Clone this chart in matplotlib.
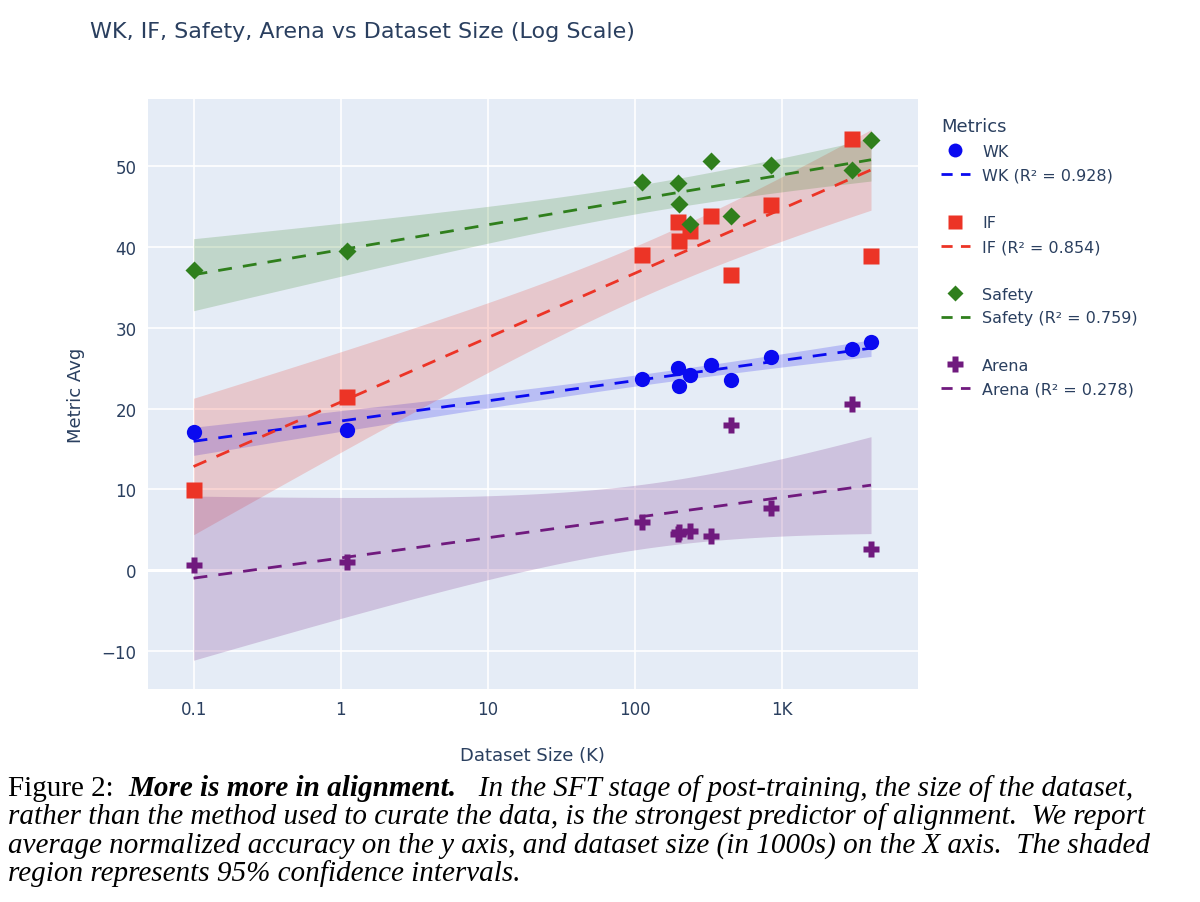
import numpy as np
import matplotlib.pyplot as plt
from matplotlib.lines import Line2D

# dataset sizes (K)
x_sizes = [0.1, 1.1, 112, 195, 200, 237, 329, 450, 841, 2990, 4030]
wk = [17.1, 17.4, 23.7, 25.0, 22.8, 24.2, 25.4, 23.6, 26.4, 27.4, 28.2]
ifs = [9.9, 21.4, 39.0, 43.1, 40.8, 42.0, 43.8, 36.6, 45.2, 53.4, 38.9]
safety = [37.2, 39.5, 48.0, 47.9, 45.3, 42.9, 50.6, 43.9, 50.1, 49.5, 53.2]
arena = [0.6, 1.0, 6.0, 4.5, 4.7, 4.8, 4.2, 18.0, 7.7, 20.6, 2.6]
r2 = {'WK': 0.928, 'IF': 0.854, 'Safety': 0.759, 'Arena': 0.278}

series = [
    ('WK', wk, '#0a0af0', 'o', 11),
    ('IF', ifs, '#ec3426', 's', 11),
    ('Safety', safety, '#2f7f1c', 'D', 9),
    ('Arena', arena, '#701a7e', 'P', 12),
]

fig = plt.figure(figsize=(12, 9.03), dpi=100)
ax = fig.add_axes([0.123, 0.236, 0.642, 0.653])
ax.set_facecolor('#e5ecf6')
ax.set_xscale('log')

lx = np.log10(np.array(x_sizes))
xs = np.linspace(lx.min(), lx.max(), 100)
handles = []
for name, ys, col, mk, ms in series:
    y = np.array(ys)
    n = len(y)
    b, a = np.polyfit(lx, y, 1)
    resid = y - (a + b * lx)
    s = np.sqrt((resid ** 2).sum() / (n - 2))
    se = s * np.sqrt(1 / n + (xs - lx.mean()) ** 2 / ((lx - lx.mean()) ** 2).sum())
    fit = a + b * xs
    ax.fill_between(10 ** xs, fit - 2.262 * se, fit + 2.262 * se, color=col, alpha=0.2, lw=0, zorder=1)
    ax.plot(10 ** xs, fit, '--', color=col, lw=2, dashes=(5, 4), zorder=2)
    ax.plot(x_sizes, ys, mk, color=col, ms=ms, mec='none', zorder=3)
    handles += [Line2D([], [], ls='none', marker=mk, color=col, ms=ms - 1, mec='none', label=name),
                Line2D([], [], ls='--', color=col, lw=2, dashes=(4, 3), label=f'{name} (R² = {r2[name]:.3f})'),
                Line2D([], [], ls='none', label=' ')]

ax.set_xlim(0.0487, 8410)
ax.set_ylim(-14.7, 58.3)
ax.set_xticks([0.1, 1, 10, 100, 1000])
ax.set_xticklabels(['0.1', '1', '10', '100', '1K'])
ax.minorticks_off()
ax.set_yticks([-10, 0, 10, 20, 30, 40, 50])
ax.set_yticklabels(['−10', '0', '10', '20', '30', '40', '50'])
ax.grid(color='white', lw=1.2)
ax.axhline(0, color='white', lw=2.2, zorder=0.5)
ax.set_axisbelow(True)
for sp in ax.spines.values():
    sp.set_visible(False)
ax.tick_params(length=0, labelsize=12, colors='#2a3f5f', pad=8)
ax.set_xlabel('Dataset Size (K)', fontsize=13, color='#2a3f5f', labelpad=20)
ax.set_ylabel('Metric Avg', fontsize=13, color='#2a3f5f', labelpad=12)

leg = fig.legend(handles=handles[:-1], loc='upper left', bbox_to_anchor=(0.772, 0.885),
                 frameon=False, title='Metrics', fontsize=11.5, labelspacing=0.55,
                 handlelength=1.8, alignment='left')
leg.get_title().set_fontsize(13)
leg.get_title().set_color('#2a3f5f')
for t in leg.get_texts():
    t.set_color('#2a3f5f')

fig.text(0.075, 0.965, 'WK, IF, Safety, Arena vs Dataset Size (Log Scale)', fontsize=16,
         color='#2a3f5f', va='center')

# caption
fs = 21
cap = dict(family='Liberation Serif', fontsize=fs, va='baseline')
t0 = fig.text(0.007, 1 - 796 / 903, 'Figure 2:  ', **cap)
t1 = ax.annotate('More is more in alignment.', xy=(1, 0), xycoords=t0, va='bottom',
                 family='Liberation Serif', fontsize=fs, style='italic', weight='bold')
ax.annotate('   In the SFT stage of post-training, the size of the dataset,', xy=(1, 0), xycoords=t1,
            va='bottom', family='Liberation Serif', fontsize=fs, style='italic')
rest = ['rather than the method used to curate the data, is the strongest predictor of alignment.  We report',
        'average normalized accuracy on the y axis, and dataset size (in 1000s) on the X axis.  The shaded',
        'region represents 95% confidence intervals.']
for i, line in enumerate(rest):
    fig.text(0.007, 1 - (824 + 28.5 * i) / 903, line, style='italic', **cap)

fig.savefig('out.png', dpi=100)
